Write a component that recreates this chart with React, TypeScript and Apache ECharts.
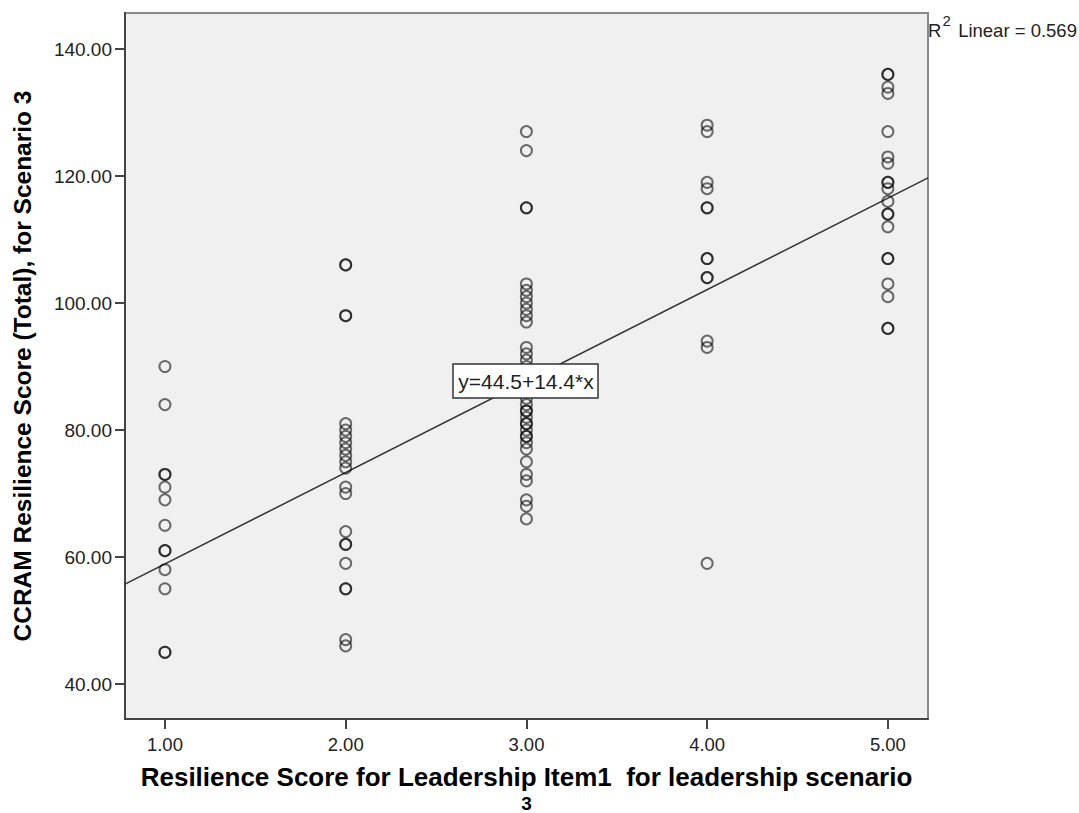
import React, { useEffect, useRef } from "react";
import * as echarts from "echarts";

const xTicks = [1, 2, 3, 4, 5];
const yTicks = [40, 60, 80, 100, 120, 140];

const scoresAt1 = [90, 84, 73, 73, 71, 69, 65, 61, 61, 58, 55, 45, 45];
const scoresAt2 = [106, 106, 98, 98, 81, 80, 79, 78, 77, 76, 75, 74, 71, 70, 64, 62, 62, 59, 55, 55, 47, 46];
const scoresAt3 = [127, 124, 115, 115, 103, 102, 101, 100, 99, 98, 97, 93, 92, 91, 90, 89, 88, 86, 85, 84, 83, 83, 82, 81, 81, 80, 79, 79, 78, 77, 75, 73, 72, 69, 68, 66];
const scoresAt4 = [128, 127, 119, 118, 115, 115, 107, 107, 104, 104, 94, 93, 59];
const scoresAt5 = [136, 136, 134, 133, 127, 123, 122, 119, 119, 118, 116, 114, 114, 112, 107, 107, 103, 101, 96, 96];

const intercept = 44.5;
const slope = 14.4;
const xMin = 0.779;
const xMax = 5.222;
const yMin = 34.49;
const yMax = 145.67;

const FONT = "Liberation Sans, Arial, sans-serif";

export default function App() {
  const ref = useRef<HTMLDivElement>(null);
  useEffect(() => {
    if (!ref.current) return;
    const chart = echarts.init(ref.current, null, { renderer: "svg" });
    const groups = [scoresAt1, scoresAt2, scoresAt3, scoresAt4, scoresAt5];
    const points: number[][] = [];
    groups.forEach((g, i) => g.forEach((v) => points.push([xTicks[i], v])));
    const fit = [
      [xMin, intercept + slope * xMin],
      [xMax, intercept + slope * xMax],
    ];
    chart.setOption({
      animation: false,
      backgroundColor: "#ffffff",
      grid: {
        left: 125,
        top: 13,
        width: 803,
        height: 706,
        show: true,
        containLabel: false,
        outerBoundsMode: "none",
        backgroundColor: "#f0f0f0",
        borderColor: "#8a8a8a",
        borderWidth: 2,
      },
      xAxis: {
        type: "value",
        min: xMin,
        max: xMax,
        splitLine: { show: false },
        axisLine: { show: true, onZero: false, lineStyle: { color: "#444", width: 2 } },
        axisTick: { show: true, customValues: xTicks, length: 10, lineStyle: { color: "#444", width: 2 } },
        axisLabel: {
          customValues: xTicks,
          formatter: (v: number) => v.toFixed(2),
          fontFamily: FONT,
          fontSize: 18.5,
          color: "#222",
          margin: 16,
        },
        name: "Resilience Score for Leadership Item1  for leadership scenario",
        nameLocation: "middle",
        nameGap: 48,
        nameTextStyle: { fontFamily: FONT, fontSize: 26, fontWeight: "bold", color: "#000", lineHeight: 20 },
      },
      yAxis: {
        type: "value",
        min: yMin,
        max: yMax,
        splitLine: { show: false },
        axisLine: { show: true, onZero: false, lineStyle: { color: "#444", width: 2 } },
        axisTick: { show: true, customValues: yTicks, length: 10, lineStyle: { color: "#444", width: 2 } },
        axisLabel: {
          customValues: yTicks,
          formatter: (v: number) => v.toFixed(2),
          fontFamily: FONT,
          fontSize: 19,
          color: "#222",
          margin: 13,
        },
        name: "CCRAM Resilience Score (Total), for Scenario 3",
        nameLocation: "middle",
        nameGap: 90,
        nameTextStyle: { fontFamily: FONT, fontSize: 24.5, fontWeight: "bold", color: "#000" },
      },
      series: [
        {
          type: "scatter",
          data: points,
          symbol: "circle",
          symbolSize: 11,
          itemStyle: { color: "rgba(0,0,0,0)", borderColor: "rgba(0,0,0,0.7)", borderWidth: 2 },
          z: 3,
        },
        {
          type: "line",
          data: fit,
          showSymbol: false,
          symbol: "none",
          lineStyle: { color: "#333", width: 1.5 },
          z: 2,
        },
      ],
      graphic: [
        {
          type: "rect",
          shape: { x: 453, y: 364, width: 145, height: 34 },
          style: { fill: "#ffffff", stroke: "#333", lineWidth: 1.5 },
          z: 100,
        },
        {
          type: "text",
          x: 526,
          y: 381,
          style: {
            text: "y=44.5+14.4*x",
            fontFamily: FONT,
            fontSize: 21,
            fill: "#222",
            align: "center",
            verticalAlign: "middle",
          },
          z: 101,
        },
        {
          type: "text",
          x: 526.5,
          y: 803,
          style: {
            text: "3",
            fontFamily: FONT,
            fontSize: 19,
            fontWeight: "bold",
            lineHeight: 13,
            fill: "#000",
            align: "center",
            verticalAlign: "middle",
          },
        },
        {
          type: "text",
          x: 928,
          y: 30,
          style: { text: "R", fontFamily: FONT, fontSize: 18.5, fill: "#222", verticalAlign: "middle" },
        },
        {
          type: "text",
          x: 942.5,
          y: 20,
          style: { text: "2", fontFamily: FONT, fontSize: 15, fill: "#222", verticalAlign: "middle" },
        },
        {
          type: "text",
          x: 953,
          y: 30,
          style: { text: " Linear = 0.569", fontFamily: FONT, fontSize: 18.5, fill: "#222", verticalAlign: "middle" },
        },
      ],
    });
    return () => chart.dispose();
  }, []);
  return (
    <div
      ref={ref}
      style={{ position: "absolute", left: 0, top: 0, width: 1079, height: 813 }}
    />
  );
}
